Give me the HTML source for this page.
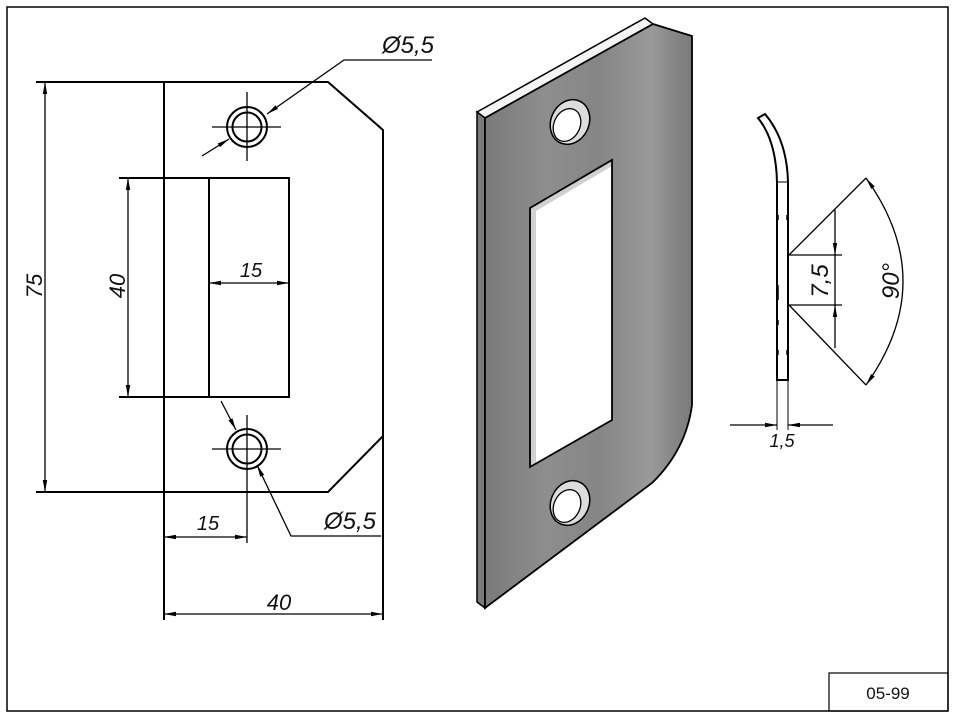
<!DOCTYPE html>
<html><head><meta charset="utf-8"><style>
html,body{margin:0;padding:0;background:#fff;}
svg{display:block;}
text{font-family:"Liberation Sans",sans-serif;font-style:italic;fill:#111;}
</style></head><body>
<svg width="957" height="722" viewBox="0 0 957 722" xmlns="http://www.w3.org/2000/svg">
<defs>
<marker id="a" viewBox="0 0 12 6" refX="12" refY="3" markerWidth="12" markerHeight="6" orient="auto-start-reverse" markerUnits="userSpaceOnUse">
<path d="M0,0.8 L12,3 L0,5.2z" fill="#000"/></marker>
<linearGradient id="g" x1="0" y1="0" x2="1" y2="0">
<stop offset="0" stop-color="#7a7a7a"/><stop offset="0.3" stop-color="#8e8e8e"/><stop offset="0.55" stop-color="#858585"/><stop offset="0.8" stop-color="#9a9a9a"/><stop offset="0.92" stop-color="#858585"/><stop offset="1" stop-color="#7a7a7a"/></linearGradient>
</defs>
<rect x="7" y="7" width="941" height="704" fill="none" stroke="#000" stroke-width="1.5"/>
<rect x="829" y="673" width="119" height="38" fill="none" stroke="#000" stroke-width="1.2"/>
<text x="888" y="699" text-anchor="middle" font-size="17" style="font-style:normal">05-99</text>

<g stroke="#000" fill="none" stroke-width="2">
<path d="M164,82 V620"/>
<path d="M36,82 H328 L383,130 V436 L328,492 H36"/>
<path d="M383,436 V620"/>
<path d="M119,178 H289 V397 H119"/>
<path d="M209,178 V397"/>
<circle cx="247" cy="127" r="20"/><circle cx="247" cy="127" r="14.5"/>
<circle cx="247" cy="449" r="20"/><circle cx="247" cy="449" r="14.5"/>
</g>
<g stroke="#000" stroke-width="1.3" fill="none">
<path d="M212,127 H281 M247,92 V161"/>
<path d="M212,449 H281 M247,415 V456"/>
<path d="M247,456 V543"/>
<path d="M45,82 V492" marker-start="url(#a)" marker-end="url(#a)"/>
<path d="M128,178 V397" marker-start="url(#a)" marker-end="url(#a)"/>
<path d="M209,283 H289" marker-start="url(#a)" marker-end="url(#a)"/>
<path d="M164,537 H247" marker-start="url(#a)" marker-end="url(#a)"/>
<path d="M164,614 H383" marker-start="url(#a)" marker-end="url(#a)"/>
<path d="M202,156 L229,139" marker-end="url(#a)"/>
<path d="M432,60 H344 L267,114" marker-end="url(#a)"/>
<path d="M221,401 L236,430" marker-end="url(#a)"/>
<path d="M381,536 H291 L257,465" marker-end="url(#a)"/>
</g>
<text font-size="22" transform="translate(42,286) rotate(-90)" text-anchor="middle">75</text>
<text font-size="22" transform="translate(125,286) rotate(-90)" text-anchor="middle">40</text>
<text x="251" y="277" font-size="20" text-anchor="middle">15</text>
<text x="208" y="530" font-size="20" text-anchor="middle">15</text>
<text x="279" y="610" font-size="22" text-anchor="middle">40</text>
<text x="408" y="53" font-size="24" text-anchor="middle">Ø5,5</text>
<text x="350" y="529" font-size="24" text-anchor="middle">Ø5,5</text>

<path d="M477,112 L645,18 L653,24 L485,118z" fill="#f4f4f4" stroke="#000" stroke-width="1.5"/>
<path d="M477,112 L485,118 V608 L477,602z" fill="#7a7a7a" stroke="#000" stroke-width="1.5"/>
<path d="M485,118 L653,24 L692,36 V405 Q686,450 652,483 L485,608z" fill="url(#g)" stroke="#000" stroke-width="1.8"/>
<path d="M530,208 L612,160 V420 L530,467z" fill="#fff"/>
<path d="M530,208 L612,160 V166 L536,211 V463 L530,467z" fill="#d0d0d0"/>
<path d="M530,208 L612,160 V420 L530,467z" fill="none" stroke="#000" stroke-width="1.8"/>
<ellipse cx="570" cy="122" rx="19" ry="23" transform="rotate(25 570 122)" fill="#ddd" stroke="#000" stroke-width="1.5"/>
<ellipse cx="567" cy="125" rx="13" ry="17" transform="rotate(25 567 125)" fill="#fff" stroke="#000" stroke-width="1.3"/>
<ellipse cx="570" cy="503" rx="19" ry="23" transform="rotate(25 570 503)" fill="#ddd" stroke="#000" stroke-width="1.5"/>
<ellipse cx="567" cy="506" rx="13" ry="17" transform="rotate(25 567 506)" fill="#fff" stroke="#000" stroke-width="1.3"/>

<g stroke="#000" fill="none">
<path d="M777,182 V380 H788 V182" stroke-width="2"/>
<path d="M777,182 Q776,140 758,118 L765,114 Q787,140 788,182" stroke-width="2"/>
<path d="M777,182 H788" stroke-width="1"/>
<path d="M778,215 V220 M787,215 V220 M778,350 V355 M787,350 V355 M778,320 V325 M778,285 V300" stroke-width="1.5"/>
<path d="M789,255 L866,178 M789,305 L866,385" stroke-width="1.3"/>
<path d="M789,255 H842 M789,305 H842" stroke-width="1.3"/>
<path d="M835,210 V255" stroke-width="1.3" marker-end="url(#a)"/>
<path d="M835,348 V305" stroke-width="1.3" marker-end="url(#a)"/>
<path d="M835,255 V305" stroke-width="1.3"/>
<path d="M866,178 Q940,281 866,385" stroke-width="1.3" marker-start="url(#a)" marker-end="url(#a)"/>
<path d="M777,380 V430 M788,380 V430" stroke-width="1"/>
<path d="M730,425 H777" stroke-width="1.3" marker-end="url(#a)"/>
<path d="M833,425 H788" stroke-width="1.3" marker-end="url(#a)"/>
</g>
<text font-size="24" transform="translate(828,281) rotate(-90)" text-anchor="middle">7,5</text>
<text font-size="24" transform="translate(899,281) rotate(-90)" text-anchor="middle">90°</text>
<text x="782" y="447" font-size="18" text-anchor="middle">1,5</text>
</svg>
</body></html>
